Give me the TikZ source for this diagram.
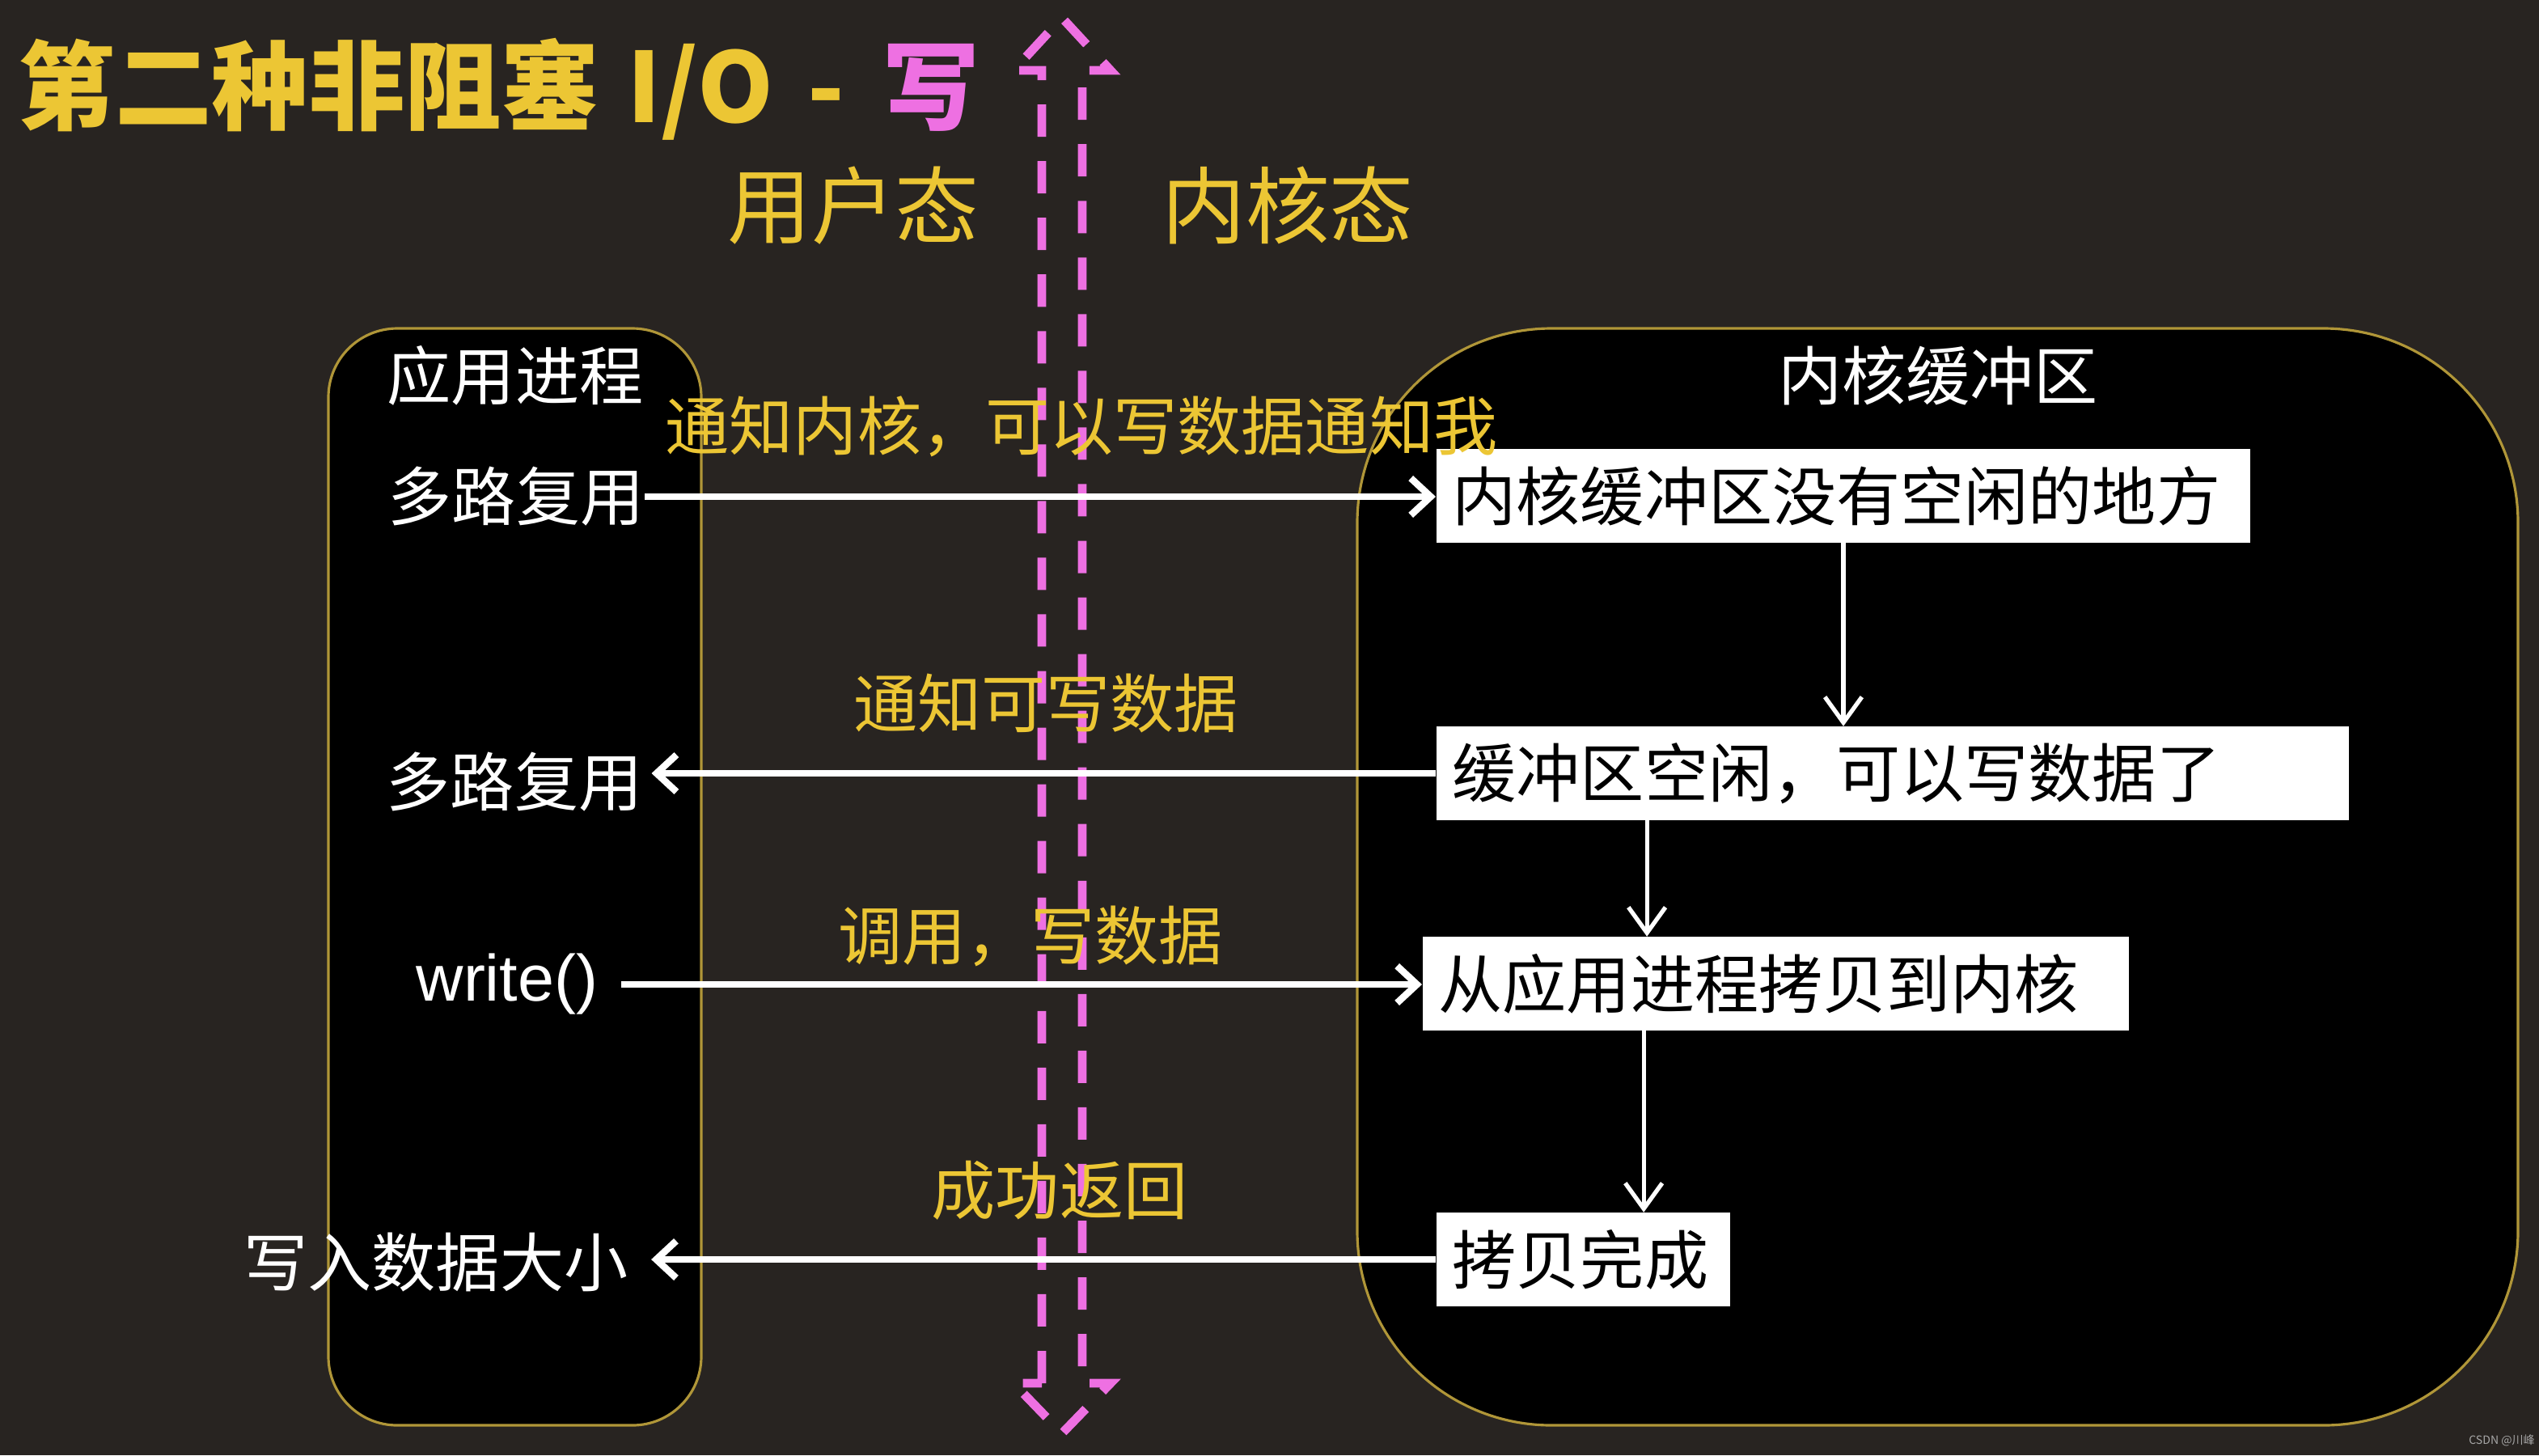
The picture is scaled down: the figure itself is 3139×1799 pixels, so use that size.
\documentclass[tikz,border=0pt]{standalone}
\usepackage{fontspec}
\setmainfont{Noto Sans CJK SC}
\newfontfamily\latinfont{Liberation Sans}
\usetikzlibrary{arrows.meta,calc}
\definecolor{bgc}{RGB}{40,36,33}
\definecolor{gold}{RGB}{176,150,56}
\definecolor{ylw}{RGB}{236,198,52}
\definecolor{pnk}{RGB}{238,112,226}
\begin{document}
\begin{tikzpicture}[x=0.01cm,y=-0.01cm,
  txt/.style={text=white, font=\fontsize{22.5pt}{26pt}\selectfont, inner sep=0pt},
  lab/.style={text=ylw, font=\fontsize{22.5pt}{26pt}\selectfont, inner sep=0pt},
  kbox/.style={fill=white, text=black, font=\fontsize{22.5pt}{26pt}\selectfont, inner xsep=0.2cm, inner ysep=0pt, minimum height=1.15cm, align=left, anchor=west},
  cont/.style={fill=black, draw=gold, line width=0.9pt},
  arr/.style={draw=white, line width=2.4pt, -{Straight Barb[length=7pt,width=13pt]}},
  varr/.style={draw=white, line width=1.5pt, -{Straight Barb[length=9pt,width=13pt]}},
  pinkarrow/.style={draw=pnk, line width=3.1pt, dash pattern=on 0.4cm off 0.3cm, line join=miter}
]
\useasboundingbox (0,0) rectangle (3139,1799);
\fill[bgc] (0,0) rectangle (3139,1799);

% containers
\draw[cont, rounded corners=0.85cm] (406,406) rectangle (867,1762);
\draw[cont, rounded corners=2.4cm] (1678,406) rectangle (3113,1762);

% user / kernel boundary arrow
\draw[pinkarrow] (1288,1710) -- (1288,87) -- (1253,87) -- (1313,22) -- (1373,87) -- (1338,87) -- (1338,1710) -- (1373,1710) -- (1313,1772) -- (1253,1710) -- cycle;

% title and headers
\node[anchor=west, text=ylw, inner sep=0pt, font=\fontsize{34pt}{40pt}\selectfont\bfseries] (title) at (22,110)
  {第二种非阻塞\hspace{0.3em}I/O\hspace{0.35em}-\hspace{0.4em}\textcolor{pnk}{写}};
\node[text=ylw, inner sep=0pt, font=\fontsize{29.5pt}{34pt}\selectfont] (user) at (1055,254) {用户态};
\node[text=ylw, inner sep=0pt, font=\fontsize{29.5pt}{34pt}\selectfont] (kern) at (1592,254) {内核态};

% container titles
\node[txt] (app) at (637,464) {应用进程};
\node[txt] (kbuf) at (2396,464) {内核缓冲区};

% left texts
\node[txt, anchor=east] (mux1) at (797,614) {多路复用};
\node[txt, anchor=east] (mux2) at (795,967) {多路复用};
\node[txt, anchor=east, font=\latinfont\fontsize{23pt}{27pt}\selectfont] (wr) at (740,1217) {write()};
\node[txt, anchor=east] (ret) at (777,1560) {写入数据大小};

% kernel boxes
\node[kbox, text width=9.66cm] (b1) at (1775,613) {内核缓冲区没有空闲的地方};
\node[kbox, text width=10.88cm] (b2) at (1775,956) {缓冲区空闲，可以写数据了};
\node[kbox, text width=8.33cm] (b3) at (1758,1216) {从应用进程拷贝到内核};
\node[kbox, text width=3.23cm] (b4) at (1775,1557) {拷贝完成};

% labels
\node[lab] (l1) at (1337,527) {通知内核，可以写数据通知我};
\node[lab] (l2) at (1293,869) {通知可写数据};
\node[lab] (l3) at (1274,1157) {调用，写数据};
\node[lab] (l4) at (1310,1472) {成功返回};

% horizontal arrows
\draw[arr] (mux1.east) -- (mux1.east -| b1.west);
\draw[arr, shorten >=3pt] (b2.west) -- (b2.west -| mux2.east);
\draw[arr, shorten <=8pt] (wr.east) -- (wr.east -| b3.west);
\draw[arr, shorten >=8pt] (b4.west) -- (b4.west -| ret.east);

% vertical arrows
\draw[varr] (b1.south) -- (b1.south |- b2.north);
\draw[varr] ([xshift=2.61cm]b2.south west) -- ([xshift=2.61cm]b2.south west |- b3.north);
\draw[varr] ([xshift=2.74cm]b3.south west) -- ([xshift=2.74cm]b3.south west |- b4.north);

% watermark
\node[text=gray!70, inner sep=0pt, font=\fontsize{4pt}{5pt}\selectfont] (wm) at (3093,1781) {CSDN @川峰};
\end{tikzpicture}
\end{document}
